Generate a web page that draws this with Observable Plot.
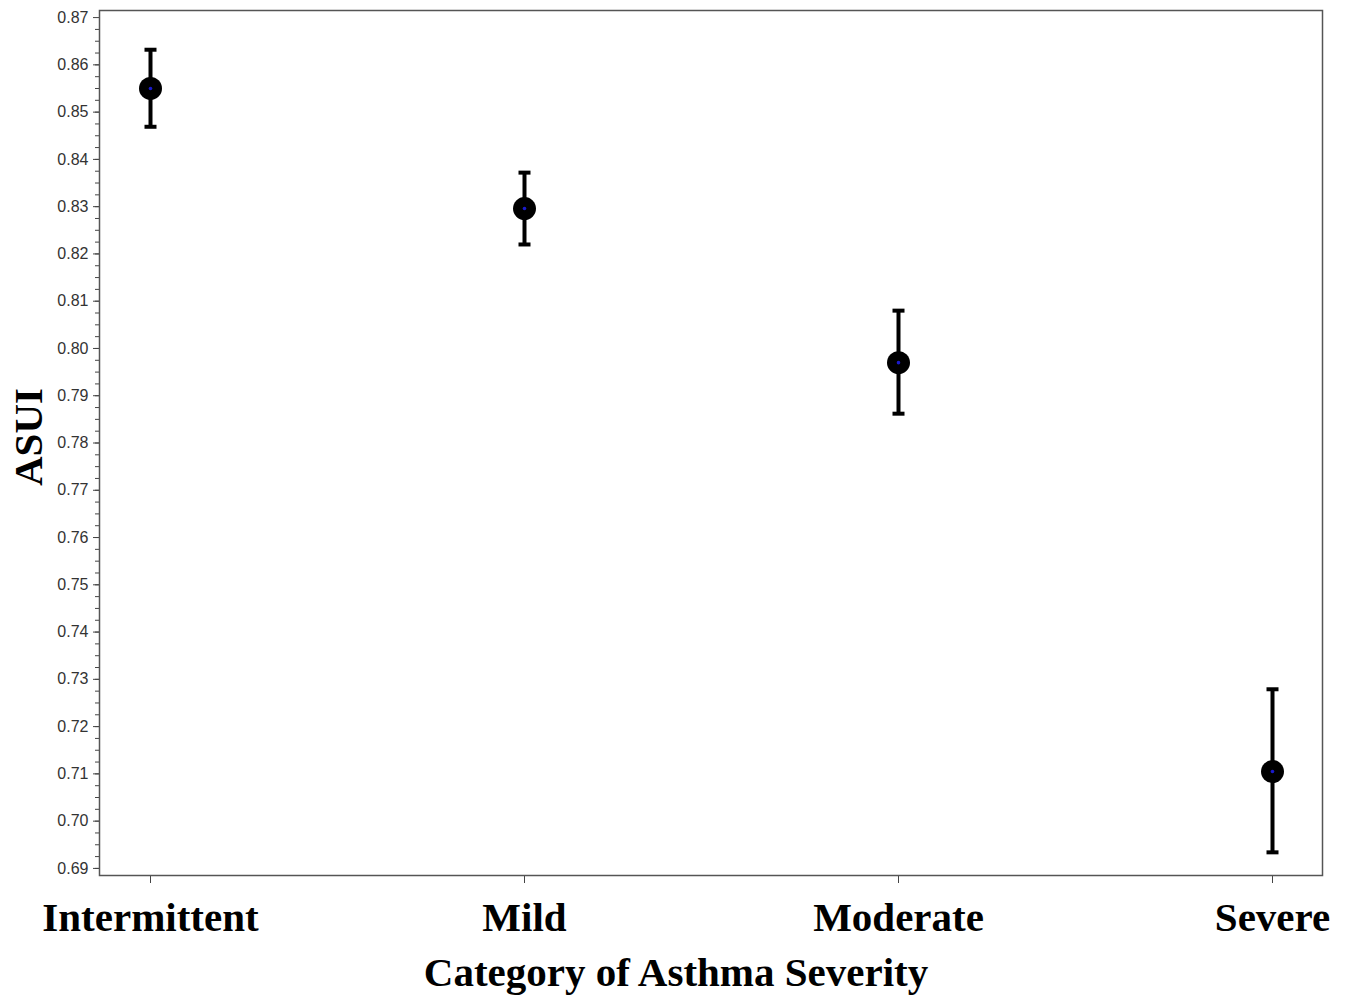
<!DOCTYPE html>
<html><head><meta charset="utf-8">
<script src="https://cdn.jsdelivr.net/npm/d3@7"></script>
<script src="https://cdn.jsdelivr.net/npm/@observablehq/plot@0.6"></script>
<style>body{margin:0;background:#fff;overflow:hidden}</style>
</head><body><div id="chart"></div>
<script>
const categories = ["Intermittent", "Mild", "Moderate", "Severe"];
const means = [0.8550, 0.8296, 0.7970, 0.7105];
const lower = [0.8469, 0.8220, 0.7862, 0.6934];
const upper = [0.8632, 0.8372, 0.8080, 0.7279];
const yTicks = d3.range(69, 88).map(d => d / 100);
const yMinorTicks = d3.range(0, 73).map(d => 0.6875 + d * 0.0025).filter(v => v >= 0.6886 && v <= 0.8714);
const xTitle = "Category of Asthma Severity";
const yTitle = "ASUI";

const data = categories.map((c, i) => ({category: c, mean: means[i], lo: lower[i], hi: upper[i]}));

const capSymbol = {
  draw(context, size) {
    const w = Math.sqrt(size / Math.PI);
    context.moveTo(-w, 0);
    context.lineTo(w, 0);
  }
};

const serif = "'Liberation Serif', 'Times New Roman', serif";
const sans = "'Liberation Sans', Arial, sans-serif";

const chart = Plot.plot({
  width: 1355,
  height: 999,
  marginTop: 10,
  marginBottom: 124,
  marginLeft: 99,
  marginRight: 33,
  style: {background: "#fff"},
  x: {type: "point", domain: categories, padding: 0.135},
  y: {domain: [0.6885, 0.8715]},
  marks: [
    Plot.axisY({ticks: yMinorTicks, tickSize: 4, tickFormat: () => "", stroke: "#444", label: null}),
    Plot.axisY({ticks: yTicks, tickSize: 6, tickPadding: 5, tickFormat: d3.format(".2f"),
      fontSize: 16, fontFamily: sans, fill: "#333", stroke: "#444", label: null}),
    Plot.axisX({tickSize: 8, tickPadding: 18, fontSize: 41, fontWeight: "bold", fontFamily: serif,
      fill: "#000", stroke: "#444", label: null}),
    Plot.text([xTitle], {frameAnchor: "bottom", dx: -35, dy: 110, lineAnchor: "bottom", fontSize: 41,
      fontWeight: "bold", fontFamily: serif, fill: "#000"}),
    Plot.text([yTitle], {frameAnchor: "left", textAnchor: "middle", dx: -71, dy: -6, rotate: -90, fontSize: 41,
      fontWeight: "bold", fontFamily: serif, fill: "#000"}),
    Plot.frame({stroke: "#555", strokeWidth: 1.5}),
    Plot.ruleX(data, {x: "category", y1: "lo", y2: "hi", stroke: "#000", strokeWidth: 4}),
    Plot.dot(data, {x: "category", y: "lo", symbol: capSymbol, r: 6, stroke: "#000", strokeWidth: 4, fill: "none"}),
    Plot.dot(data, {x: "category", y: "hi", symbol: capSymbol, r: 6, stroke: "#000", strokeWidth: 4, fill: "none"}),
    Plot.dot(data, {x: "category", y: "mean", r: 11.5, fill: "#000", stroke: "none"}),
    Plot.dot(data, {x: "category", y: "mean", r: 1.8, fill: "#1a1acc", stroke: "none"})
  ]
});
document.getElementById("chart").appendChild(chart);
</script>
</body></html>
